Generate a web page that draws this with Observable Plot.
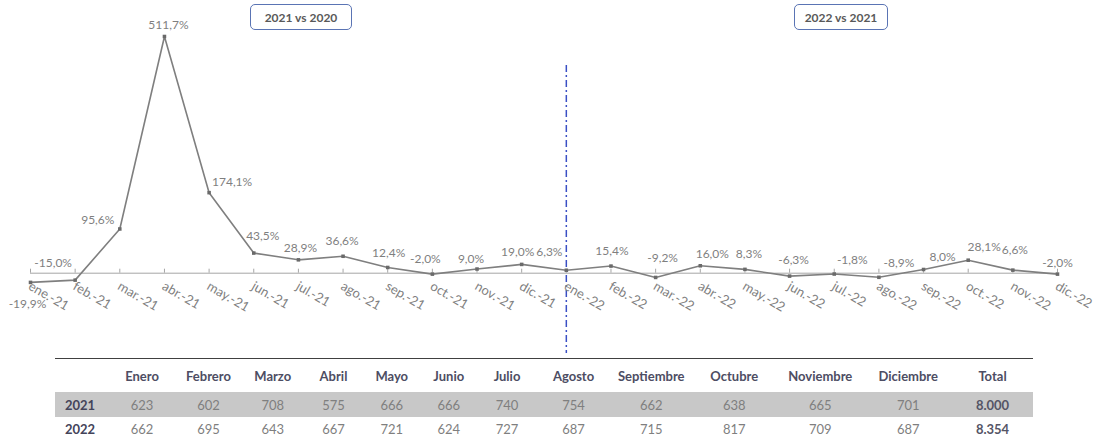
<!DOCTYPE html>
<html>
<head>
<meta charset="utf-8">
<script src="https://cdn.jsdelivr.net/npm/d3@7"></script>
<script src="https://cdn.jsdelivr.net/npm/@observablehq/plot@0.6"></script>
<style>
  body { margin: 0; background: #fff; font-family: Lato, sans-serif; }
  #wrap { position: relative; width: 1095px; height: 441px; overflow: hidden; }
  #chart { position: absolute; left: 0; top: 0; }
  .box { position: absolute; top: 4px; height: 26px; border: 1.5px solid #5a74b4; border-radius: 5px;
         box-sizing: border-box; display: flex; align-items: center; justify-content: center;
         font-weight: bold; font-size: 12px; color: #595959; background: #fff; }
  table { position: absolute; left: 55px; top: 358px; border-collapse: collapse; table-layout: fixed;
          border-top: 1.5px solid #404040; font-family: Lato, sans-serif; }
  td, th { padding: 0; text-align: center; white-space: nowrap; }
  th { font-weight: bold; font-size: 13px; color: #4d4d63; height: 33px; }
  td { font-size: 13px; color: #7f7f7f; }
  td.lab { text-align: left; padding-left: 10px; font-weight: bold; color: #44445a; font-size: 13px; }
  td.tot { font-weight: bold; color: #555566; }
  tr.r2021 td { background: #c8c8c8; height: 25px; }
  tr.r2022 td { height: 24px; }
</style>
</head>
<body>
<div id="wrap">
  <div id="chart"></div>
  <div class="box" style="left:250px;width:102px;">2021 vs 2020</div>
  <div class="box" style="left:794px;width:94px;">2022 vs 2021</div>
  <table id="tbl"></table>
</div>
<script>
// ---- data ----
const months = ["ene.-21","feb.-21","mar.-21","abr.-21","may.-21","jun.-21","jul.-21","ago.-21","sep.-21","oct.-21","nov.-21","dic.-21",
                "ene.-22","feb.-22","mar.-22","abr.-22","may.-22","jun.-22","jul.-22","ago.-22","sep.-22","oct.-22","nov.-22","dic.-22"];
const yoyChange = [-19.9, -15.0, 95.6, 511.7, 174.1, 43.5, 28.9, 36.6, 12.4, -2.0, 9.0, 19.0,
                   6.3, 15.4, -9.2, 16.0, 8.3, -6.3, -1.8, -8.9, 8.0, 28.1, 6.6, -2.0];
const tableMonths = ["Enero","Febrero","Marzo","Abril","Mayo","Junio","Julio","Agosto","Septiembre","Octubre","Noviembre","Diciembre"];
const years = ["2021", "2022"];
const values2021 = [623, 602, 708, 575, 666, 666, 740, 754, 662, 638, 665, 701];
const values2022 = [662, 695, 643, 667, 721, 624, 727, 687, 715, 817, 709, 687];
const dividerMonth = "ene.-22";

// ---- style: label nudges [dx, dy] in px ----
const labelNudge = [[-3,22],[-22,-17],[-22,-9],[4,-11],[23,-11],[9,-17],[2,-12],[-1,-15],[1,-14],[-7,-15],[-6,-10],[-4,-12],
                    [-17,-18],[1,-15],[7,-19],[12,-12],[4,-15],[4,-16],[18,-14],[20,-14],[19,-12],[16,-13],[2,-20],[0,-11]];

const data = months.map((m, i) => ({month: m, value: yoyChange[i]}));
const fmtPct = v => v.toFixed(1).replace(".", ",") + "%";

const grey = "#7f7f7f";
const marks = [
  Plot.ruleY([0], {stroke: "#a6a6a6", strokeWidth: 1}),
  Plot.ruleX(months, {x: d => d, y1: d => 0, y2: d => 0, insetTop: -4, stroke: "#a6a6a6", strokeWidth: 1}),
  Plot.ruleX([dividerMonth], {x: d => d, stroke: "#3a4fc4", strokeWidth: 1.5, strokeDasharray: "7,3,2,3", insetTop: 65, insetBottom: 5}),
  Plot.line(data, {x: "month", y: "value", stroke: grey, strokeWidth: 1.6}),
  Plot.dot(data, {x: "month", y: "value", symbol: "square", r: 2, fill: "#6a6a6a", stroke: "none"}),
  Plot.text(months, {x: d => d, y: d => 0, text: d => d, rotate: 30, textAnchor: "start", dx: -1, dy: 12,
                     fill: grey, fontSize: 13, fontFamily: "Lato"}),
  ...data.map((d, i) => Plot.text([d], {x: "month", y: "value", text: e => fmtPct(e.value),
                     dx: labelNudge[i][0], dy: labelNudge[i][1], fill: grey, fontSize: 12, fontFamily: "Lato"}))
];

const chart = Plot.plot({
  width: 1095, height: 358,
  marginLeft: 30, marginRight: 38, marginTop: 0, marginBottom: 0,
  x: {type: "point", domain: months, padding: 0, round: false, axis: null},
  y: {domain: [-184.4, 589.5], axis: null},
  style: {fontFamily: "Lato", background: "transparent", overflow: "visible"},
  marks
});
document.getElementById("chart").appendChild(chart);

// ---- table ----
const colWidths = [53.5, 67, 66, 62.5, 59, 57.5, 56.5, 60, 73, 82.5, 83.5, 88.5, 87.5, 81];
const fmtThousands = n => String(n).replace(/\B(?=(\d{3})+(?!\d))/g, ".");
const tbl = d3.select("#tbl");
tbl.style("width", d3.sum(colWidths) + "px");
tbl.append("colgroup").selectAll("col").data(colWidths).join("col").style("width", w => w + "px");
const head = tbl.append("tr");
head.append("th");
tableMonths.forEach(m => head.append("th").text(m));
head.append("th").text("Total");
[values2021, values2022].forEach((vals, k) => {
  const tr = tbl.append("tr").attr("class", "r" + years[k]);
  tr.append("td").attr("class", "lab").text(years[k]);
  vals.forEach(v => tr.append("td").text(v));
  tr.append("td").attr("class", "tot").text(fmtThousands(d3.sum(vals)));
});
</script>
</body>
</html>
